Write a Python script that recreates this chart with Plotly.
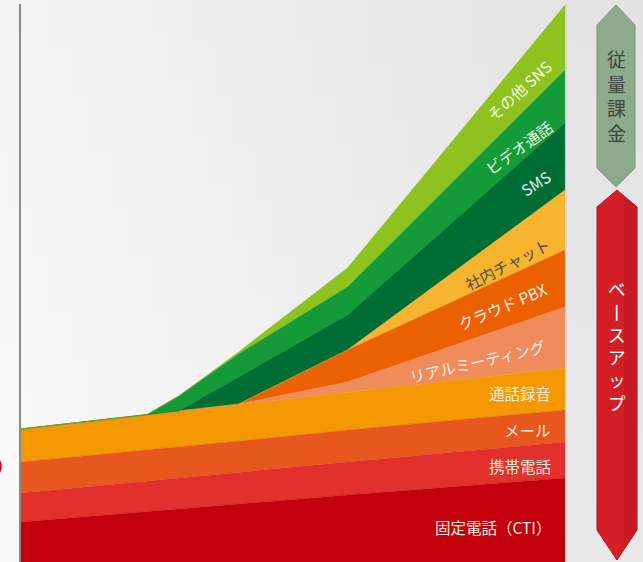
import base64
import struct
import zlib
import plotly.graph_objects as go

# ---- data (stack thickness in arbitrary units, x as % of time span) ----
x_pos = [0, 23, 29, 40, 60, 100]
series_names = ["固定電話（CTI）", "携帯電話", "メール", "通話録音", "リアルミーティング",
                "クラウド PBX", "社内チャット", "SMS", "ビデオ通話", "その他 SNS"]
fixed_phone = [40, 50, 53, 58, 67, 84]
mobile_phone = [29, 31, 31, 32, 33, 36]
mail = [31, 31, 31, 31, 32, 32]
call_record = [33, 35, 36, 37, 38, 42]
real_meeting = [0, 0, 0, 0, 10, 61]
cloud_pbx = [0, 0, 0, 0, 32, 57]
internal_chat = [0, 0, 0, 0, 0, 60]
sms = [0, 0, 0, 27, 35, 67]
video_call = [0, 0, 15, 23, 28, 53]
other_sns = [0, 0, 0, 2, 19, 65]

series_values = [fixed_phone, mobile_phone, mail, call_record, real_meeting,
                 cloud_pbx, internal_chat, sms, video_call, other_sns]
colors = ["#C4000C", "#E2302D", "#E8581E", "#F39800", "#F08B5B",
          "#EB6100", "#F7B42E", "#006E34", "#149A39", "#8DC21F"]

W, H = 643, 562
L, R, T, B = 21, 78, 4, 0
Y_MAX = 558

fig = go.Figure()
for name, vals, col in zip(series_names, series_values, colors):
    fig.add_trace(go.Scatter(
        x=x_pos, y=vals, name=name, mode="lines", stackgroup="one",
        line=dict(width=0.5, color=col), fillcolor=col, hoverinfo="skip"))

FONT = "Noto Sans CJK JP"

def px_to_data(px, py):
    return (px - L) / (W - L - R) * 100, (H - B - py)

def px_to_paper(px, py):
    return (px - L) / (W - L - R), (H - B - py) / (H - B - T)

annotations = []
# horizontal labels (right aligned)
for text, py in [("固定電話（CTI）", 527), ("携帯電話", 466), ("メール", 430), ("通話録音", 393)]:
    x, y = px_to_data(553, py)
    annotations.append(dict(x=x, y=y, text=text, showarrow=False, xanchor="right",
                            yanchor="middle", font=dict(family=FONT, size=15.5, color="#FCEBDD")))
# rotated labels
for text, px, py, ang, col in [
        ("リアルミーティング", 477, 361, -13, "#FDF0E6"),
        ("クラウド PBX", 502, 306, -23, "#FDF0E6"),
        ("社内チャット", 507, 264, -27, "#5A4A36"),
        ("SMS", 535, 183, -32, "#E8F4E8"),
        ("ビデオ通話", 519, 147, -36, "#EAF6E0"),
        ("その他 SNS", 519, 90, -42, "#F6FBE6")]:
    x, y = px_to_data(px, py)
    annotations.append(dict(x=x, y=y, text=text, showarrow=False, textangle=ang,
                            xanchor="center", yanchor="middle",
                            font=dict(family=FONT, size=15.5, color=col)))

# partially visible red mark at the left edge
x0p, y0p = px_to_paper(5, 465)
annotations.append(dict(xref="paper", yref="paper", x=x0p, y=y0p, text="<b>0</b>",
                        showarrow=False, xanchor="right", yanchor="middle",
                        font=dict(family="Noto Sans", size=22, color="#D0101B")))

# right side hexagonal arrows
def hex_path(pts):
    pp = [px_to_paper(a, b) for a, b in pts]
    return "M " + " L ".join(f"{a:.4f},{b:.4f}" for a, b in pp) + " Z"

shapes = [
    dict(type="path", xref="paper", yref="paper",
         path=hex_path([(597, 25), (616, 5), (635, 25), (635, 168), (616, 187), (597, 168)]),
         fillcolor="#8DAA8C", line=dict(color="#7E9A7E", width=1), layer="above"),
    dict(type="path", xref="paper", yref="paper",
         path=hex_path([(597, 207), (617, 190), (637, 207), (637, 530), (617, 560), (597, 530)]),
         fillcolor="#D31E27", line=dict(color="#B8141C", width=1), layer="above"),
    dict(type="path", xref="paper", yref="paper",
         path=hex_path([(624, 196), (637, 207), (637, 530), (624, 550)]),
         fillcolor="rgba(150,10,20,0.18)", line=dict(width=0), layer="above"),
]
xr, _ = px_to_paper(566, 0)
shapes.append(dict(type="line", xref="paper", yref="paper", x0=xr, x1=xr, y0=0, y1=1,
                   line=dict(color="#C8C8C8", width=1)))

# vertical text (one annotation per word, stacked characters)
xp, yp = px_to_paper(616, 95)
annotations.append(dict(xref="paper", yref="paper", x=xp, y=yp, text="<br>".join("従量課金"),
                        showarrow=False, xanchor="center", yanchor="middle",
                        font=dict(family=FONT, size=19, color="#3E463E")))
xp, yp = px_to_paper(617, 345)
annotations.append(dict(xref="paper", yref="paper", x=xp, y=yp, text="<br>".join("ベ丨スアップ"),
                        showarrow=False, xanchor="center", yanchor="middle",
                        font=dict(family=FONT, size=17.5, color="#FFFFFF")))

# soft grey background gradient (decoration)
def gradient_png(w, h):
    rows = b""
    for j in range(h):
        v = j / (h - 1)
        row = b"\x00"
        for i in range(w):
            u = i / (w - 1)
            g = int(round(250 - 18 * u - 6 * (1 - v)))
            row += bytes([g, g, g])
        rows += row
    def chunk(tag, data):
        c = struct.pack(">I", len(data)) + tag + data
        return c + struct.pack(">I", zlib.crc32(tag + data) & 0xFFFFFFFF)
    png = b"\x89PNG\r\n\x1a\n" + chunk(b"IHDR", struct.pack(">IIBBBBB", w, h, 8, 2, 0, 0, 0))
    png += chunk(b"IDAT", zlib.compress(rows)) + chunk(b"IEND", b"")
    return "data:image/png;base64," + base64.b64encode(png).decode()

bx0, by1 = px_to_paper(0, 0)
bx1, by0 = px_to_paper(W, H)
images = [dict(source=gradient_png(32, 32), xref="paper", yref="paper", x=bx0, y=by1,
               sizex=bx1 - bx0, sizey=by1 - by0, sizing="stretch", xanchor="left",
               yanchor="top", layer="below")]

fig.update_layout(
    width=W, height=H, margin=dict(l=L, r=R, t=T, b=B),
    paper_bgcolor="#F1F1F1", plot_bgcolor="rgba(0,0,0,0)", showlegend=False,
    xaxis=dict(range=[0, 100], showgrid=False, zeroline=False, showticklabels=False,
               ticks="", showline=False, fixedrange=True),
    yaxis=dict(range=[0, Y_MAX], showgrid=False, zeroline=False, showticklabels=False,
               ticks="", showline=True, linecolor="#8A8A8A", linewidth=2, fixedrange=True),
    annotations=annotations, shapes=shapes, images=images,
)

fig.write_html("out.html", config={"displayModeBar": False},
               post_script="document.body.style.margin='0';")
